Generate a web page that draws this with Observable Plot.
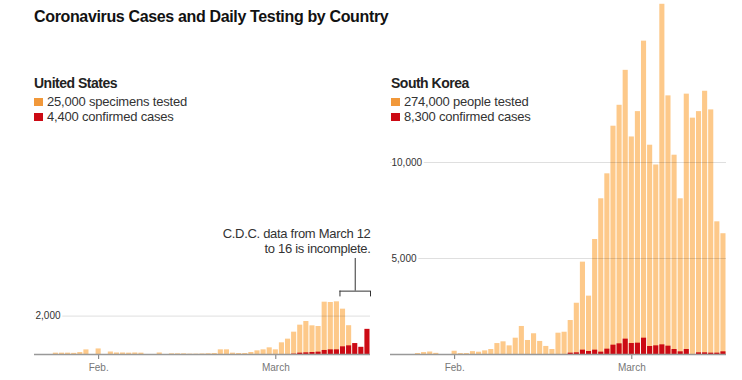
<!DOCTYPE html>
<html><head><meta charset="utf-8">
<script src="https://cdn.jsdelivr.net/npm/d3@7"></script>
<script src="https://cdn.jsdelivr.net/npm/@observablehq/plot@0.6"></script>
<style>
html,body{margin:0;padding:0;background:#fff;}
#chart{position:relative;width:742px;height:380px;overflow:hidden;font-family:"Liberation Sans",Arial,sans-serif;}
.abs{position:absolute;white-space:nowrap;}
.title{font-weight:bold;font-size:16px;line-height:16px;letter-spacing:-0.35px;color:#121212;}
.name{font-weight:bold;font-size:14px;line-height:14px;letter-spacing:-0.5px;color:#222;}
.leg{font-size:13px;line-height:15px;letter-spacing:-0.2px;color:#333;}
.sw{position:absolute;width:9px;height:8px;}
</style></head><body><div id="chart"></div>
<script>
// ---- data ----
const startDate = "2020-01-22", endDate = "2020-03-17";
const dates = d3.utcDay.range(new Date(startDate), new Date(endDate)); // Jan 22 .. Mar 16
const tickDates = ["2020-02-01", "2020-03-01"];
const tickLabels = ["Feb.", "March"];
const titleText = "Coronavirus Cases and Daily Testing by Country";
const countries = ["United States", "South Korea"];
const testedLabels = ["25,000 specimens tested", "274,000 people tested"];
const casesLabels = ["4,400 confirmed cases", "8,300 confirmed cases"];

const usTested = [0,0,0,70,70,70,60,100,240,0,
  290,0,130,80,80,70,80,70,0,0,
  80,0,35,35,35,20,20,30,40,50,
  243,243,70,52,52,104,190,243,347,243,
  608,800,1163,1528,1719,1493,1458,2725,2708,2743,
  2361,1500,null,null,null];
const usCases = [0,0,0,0,0,0,0,0,0,0,
  0,0,0,0,0,0,0,0,0,0,
  0,0,0,0,0,0,0,0,0,0,
  0,0,0,0,0,0,0,0,0,0,
  0,0,20,70,87,104,122,210,243,243,
  400,451,570,375,1310];
const krTested = [0,0,0,0,50,100,130,60,0,0,
  170,50,50,150,120,190,260,570,660,450,
  850,1460,730,1080,680,420,260,1110,1160,1770,
  2670,4810,3040,5990,8110,9410,11890,12980,14800,11330,
  12650,16320,10900,9870,18240,13470,10380,8110,13560,12310,
  12650,13710,12740,6910,6290];
const krCases = [0,0,0,0,0,0,0,0,0,0,
  0,0,0,0,0,0,0,0,0,0,
  0,0,0,0,0,0,0,0,0,70,
  87,226,156,226,122,278,486,556,800,573,
  590,850,417,451,503,434,260,139,260,null,
  87,87,70,70,139];

const usGridTicks = [2000];
const krGridTicks = [5000, 10000];
const yMax = 18437;

const noteText = "C.D.C. data from March 12\nto 16 is incomplete.";
const noteStart = "2020-03-12", noteEnd = "2020-03-17";
const noteBracketY = 3300, noteTickY = 3000, noteTopY = 5000;

// ---- colors ----
const testedColor = "#fdc98a", casesColor = "#cc0a14", testedSwatch = "#f1983a";

const fmtDay = d3.utcFormat("%Y-%m-%d");

function panel(tested, cases, gridTicks, opts) {
  const rows = dates.map((d, i) => ({date: d, next: d3.utcDay.offset(d, 1), tested: tested[i], cases: cases[i]}));
  const x0 = dates[0], x1 = d3.utcDay.offset(dates[dates.length - 1], 1);
  const marks = [
    Plot.rect(rows, {x1: "date", x2: "next", y1: 0, y2: "tested", fill: testedColor, insetLeft: 0.5, insetRight: 0.5}),
    Plot.rect(rows, {x1: "date", x2: "next", y1: 0, y2: "cases", fill: casesColor, insetLeft: 0.5, insetRight: 0.5}),
    Plot.ruleY(gridTicks, {stroke: "#000", strokeOpacity: 0.13}),
    Plot.text(gridTicks, {x: () => x0, y: d => d, text: d => d3.format(",")(d), textAnchor: "start", dx: 1,
      fill: "#333", stroke: "white", strokeWidth: 4, paintOrder: "stroke", fontSize: 10}),
    Plot.ruleY([0], {stroke: "#999", strokeWidth: 1.5})
  ];
  if (opts.note) {
    const a = new Date(noteStart), b = new Date(noteEnd), mid = new Date((+a + +b) / 2);
    marks.push(
      Plot.ruleY([noteBracketY], {x1: () => a, x2: () => b, stroke: "#333"}),
      Plot.ruleX([a, b], {y1: noteTickY, y2: noteBracketY, stroke: "#333"}),
      Plot.ruleX([mid], {y1: noteBracketY, y2: noteTopY, stroke: "#333"}),
      Plot.text([noteText], {x: () => b, y: noteTopY, text: d => d, textAnchor: "end", lineAnchor: "bottom",
        dy: -5, fill: "#333", fontSize: 13, lineHeight: 15 / 13})
    );
  }
  const svg = Plot.plot({
    width: opts.width, height: 380,
    marginLeft: opts.marginLeft, marginRight: opts.marginRight, marginTop: 0, marginBottom: 26,
    x: {type: "utc", domain: [x0, x1],
        ticks: tickDates.map(d => d3.utcHour.offset(new Date(d), 12)),
        tickFormat: d => tickLabels[tickDates.indexOf(fmtDay(d))],
        tickSize: 5, tickPadding: 4, label: null},
    y: {domain: [0, yMax], axis: null},
    style: {background: "transparent", fontFamily: '"Liberation Sans", Arial, sans-serif', fontSize: "10px", color: "#777", overflow: "visible"},
    marks
  });
  svg.style.position = "absolute";
  svg.style.left = opts.left + "px";
  svg.style.top = "0px";
  d3.select(svg).selectAll("text")
    .filter(function() { return this.textContent.startsWith("C.D.C."); })
    .style("letter-spacing", "-0.3px");
  return svg;
}

const chart = document.getElementById("chart");
chart.appendChild(panel(usTested, usCases, usGridTicks, {left: 0, width: 378, marginLeft: 34, marginRight: 8, note: true}));
chart.appendChild(panel(krTested, krCases, krGridTicks, {left: 378, width: 364, marginLeft: 12, marginRight: 16, note: false}));

function addDiv(cls, text, left, top) {
  const el = document.createElement("div");
  el.className = "abs " + cls;
  el.textContent = text;
  el.style.left = left + "px";
  el.style.top = top + "px";
  chart.appendChild(el);
  return el;
}
function addSwatch(color, left, top) {
  const el = document.createElement("div");
  el.className = "sw";
  el.style.background = color;
  el.style.left = left + "px";
  el.style.top = top + "px";
  chart.appendChild(el);
}
addDiv("title", titleText, 34, 9);
[34, 391].forEach((lx, k) => {
  addDiv("name", countries[k], lx, 75.5);
  addSwatch(testedSwatch, lx, 98);
  addDiv("leg", testedLabels[k], lx + 13, 94);
  addSwatch(casesColor, lx, 113);
  addDiv("leg", casesLabels[k], lx + 13, 109);
});
</script></body></html>
